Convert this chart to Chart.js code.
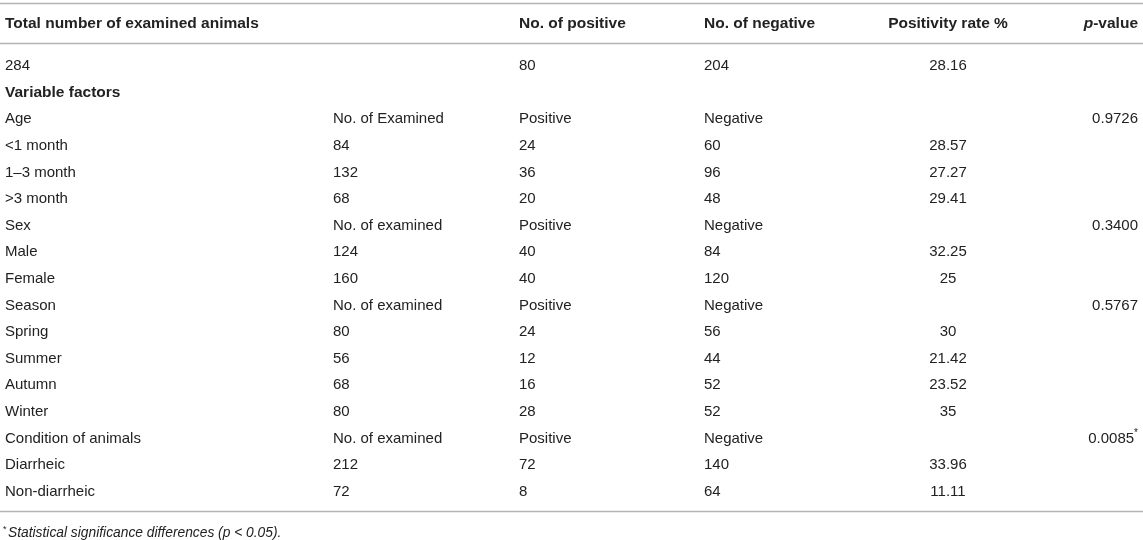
<!DOCTYPE html>
<html>
<head>
<meta charset="utf-8">
<title>Positivity by variable factors</title>
<script src="https://cdn.jsdelivr.net/npm/chart.js@4.4.1/dist/chart.umd.min.js"></script>
<style>
  html, body { margin: 0; padding: 0; background: #fff; }
  #wrap { width: 1143px; height: 540px; position: relative; }
</style>
</head>
<body>
<div id="wrap"><canvas id="mycanvas"></canvas></div>
<script>
// table content, one array per column
var headers = ['Total number of examined animals', '', 'No. of positive', 'No. of negative', 'Positivity rate %', 'p-value'];
var factors = ['284', 'Variable factors', 'Age', '<1 month', '1–3 month', '>3 month', 'Sex', 'Male', 'Female',
  'Season', 'Spring', 'Summer', 'Autumn', 'Winter', 'Condition of animals', 'Diarrheic', 'Non-diarrheic'];
var examined = ['', '', 'No. of Examined', '84', '132', '68', 'No. of examined', '124', '160',
  'No. of examined', '80', '56', '68', '80', 'No. of examined', '212', '72'];
var positive = ['80', '', 'Positive', '24', '36', '20', 'Positive', '40', '40',
  'Positive', '24', '12', '16', '28', 'Positive', '72', '8'];
var negative = ['204', '', 'Negative', '60', '96', '48', 'Negative', '84', '120',
  'Negative', '56', '44', '52', '52', 'Negative', '140', '64'];
var rate = ['28.16', '', '', '28.57', '27.27', '29.41', '', '32.25', '25',
  '', '30', '21.42', '23.52', '35', '', '33.96', '11.11'];
var pvalue = ['', '', '0.9726', '', '', '', '0.3400', '', '',
  '0.5767', '', '', '', '', '0.0085*', '', ''];
var boldRows = [1];
var footnote = 'Statistical significance differences (p < 0.05).';

var columns = [factors, examined, positive, negative, rate, pvalue];

// layout: column anchors (x px) and row positions (in row units)
var colX = [5, 333, 519, 704, 948, 1138];
var colAlign = ['left', 'left', 'left', 'left', 'center', 'right'];
var rowH = 26.6;
var yMin = -66 / rowH;
var headerRow = -1.58;
var ruleRows = [-2.38, -0.86, 16.74];
var footRow = 17.58;

var FONT = '"Liberation Sans", Arial, Helvetica, sans-serif';
var TEXT = '#222222';

var datasets = columns.map(function(col, c) {
  var pts = [];
  col.forEach(function(v, i) {
    pts.push({ x: colX[c], y: i, label: v });
  });
  return { label: headers[c], data: pts, pointRadius: 0, pointHoverRadius: 0, showLine: false };
});

function drawStar(ctx, text, x, y, align) {
  // text with trailing superscript asterisk
  var star = text.slice(-1) === '*';
  var main = star ? text.slice(0, -1) : text;
  ctx.font = '15px ' + FONT;
  var w = ctx.measureText(main).width;
  ctx.font = '10px ' + FONT;
  var sw = star ? ctx.measureText('*').width : 0;
  var left = x;
  if (align === 'right') left = x - w - sw;
  else if (align === 'center') left = x - (w + sw) / 2;
  ctx.textAlign = 'left';
  ctx.font = '15px ' + FONT;
  ctx.fillText(main, left, y);
  if (star) {
    ctx.font = '10px ' + FONT;
    ctx.fillText('*', left + w, y - 5);
  }
}

var tablePlugin = {
  id: 'tableText',
  afterDatasetsDraw: function(chart) {
    var ctx = chart.ctx;
    var xs = chart.scales.x, ys = chart.scales.y;
    ctx.save();
    ctx.fillStyle = TEXT;
    ctx.textBaseline = 'middle';

    // rules
    ctx.strokeStyle = '#b4b4b4';
    ctx.lineWidth = 1.5;
    ruleRows.forEach(function(r) {
      var py = Math.round(ys.getPixelForValue(r)) + 0.5;
      ctx.beginPath();
      ctx.moveTo(xs.getPixelForValue(0), py);
      ctx.lineTo(xs.getPixelForValue(1143), py);
      ctx.stroke();
    });

    // header
    var hy = ys.getPixelForValue(headerRow);
    var bold = 'bold 15.5px ' + FONT;
    headers.forEach(function(h, c) {
      if (!h) return;
      var hx = xs.getPixelForValue(colX[c]);
      if (h.indexOf('p-') === 0) {
        ctx.font = bold;
        var restW = ctx.measureText(h.slice(1)).width;
        ctx.font = 'italic ' + bold;
        var pW = ctx.measureText('p').width;
        ctx.textAlign = 'left';
        ctx.fillText('p', hx - restW - pW, hy);
        ctx.font = bold;
        ctx.fillText(h.slice(1), hx - restW, hy);
        return;
      }
      ctx.font = bold;
      ctx.textAlign = colAlign[c];
      ctx.fillText(h, hx, hy);
    });

    // cells, placed at the dataset points
    chart.data.datasets.forEach(function(ds, c) {
      var meta = chart.getDatasetMeta(c);
      meta.data.forEach(function(el, i) {
        var txt = ds.data[i].label;
        if (!txt) return;
        if (boldRows.indexOf(i) >= 0) {
          ctx.font = bold;
          ctx.textAlign = colAlign[c];
          ctx.fillText(txt, el.x, el.y);
        } else {
          drawStar(ctx, txt, el.x, el.y, colAlign[c]);
        }
      });
    });

    // footnote
    var fy = ys.getPixelForValue(footRow);
    ctx.textAlign = 'left';
    ctx.font = '9px ' + FONT;
    ctx.fillText('*', xs.getPixelForValue(3), fy - 4);
    ctx.font = 'italic 13.8px ' + FONT;
    ctx.fillText(footnote, xs.getPixelForValue(8), fy);
    ctx.restore();
  }
};

var ctx = document.getElementById('mycanvas');
var table = new Chart(ctx, {
  type: 'scatter',
  data: { datasets: datasets },
  plugins: [tablePlugin],
  options: {
    responsive: true,
    maintainAspectRatio: false,
    animation: false,
    layout: { padding: 0 },
    plugins: { legend: { display: false }, tooltip: { enabled: false } },
    events: [],
    scales: {
      x: { type: 'linear', display: false, min: 0, max: 1143 },
      y: { type: 'linear', display: false, reverse: true, min: yMin, max: yMin + 540 / rowH }
    }
  }
});
</script>
</body>
</html>
